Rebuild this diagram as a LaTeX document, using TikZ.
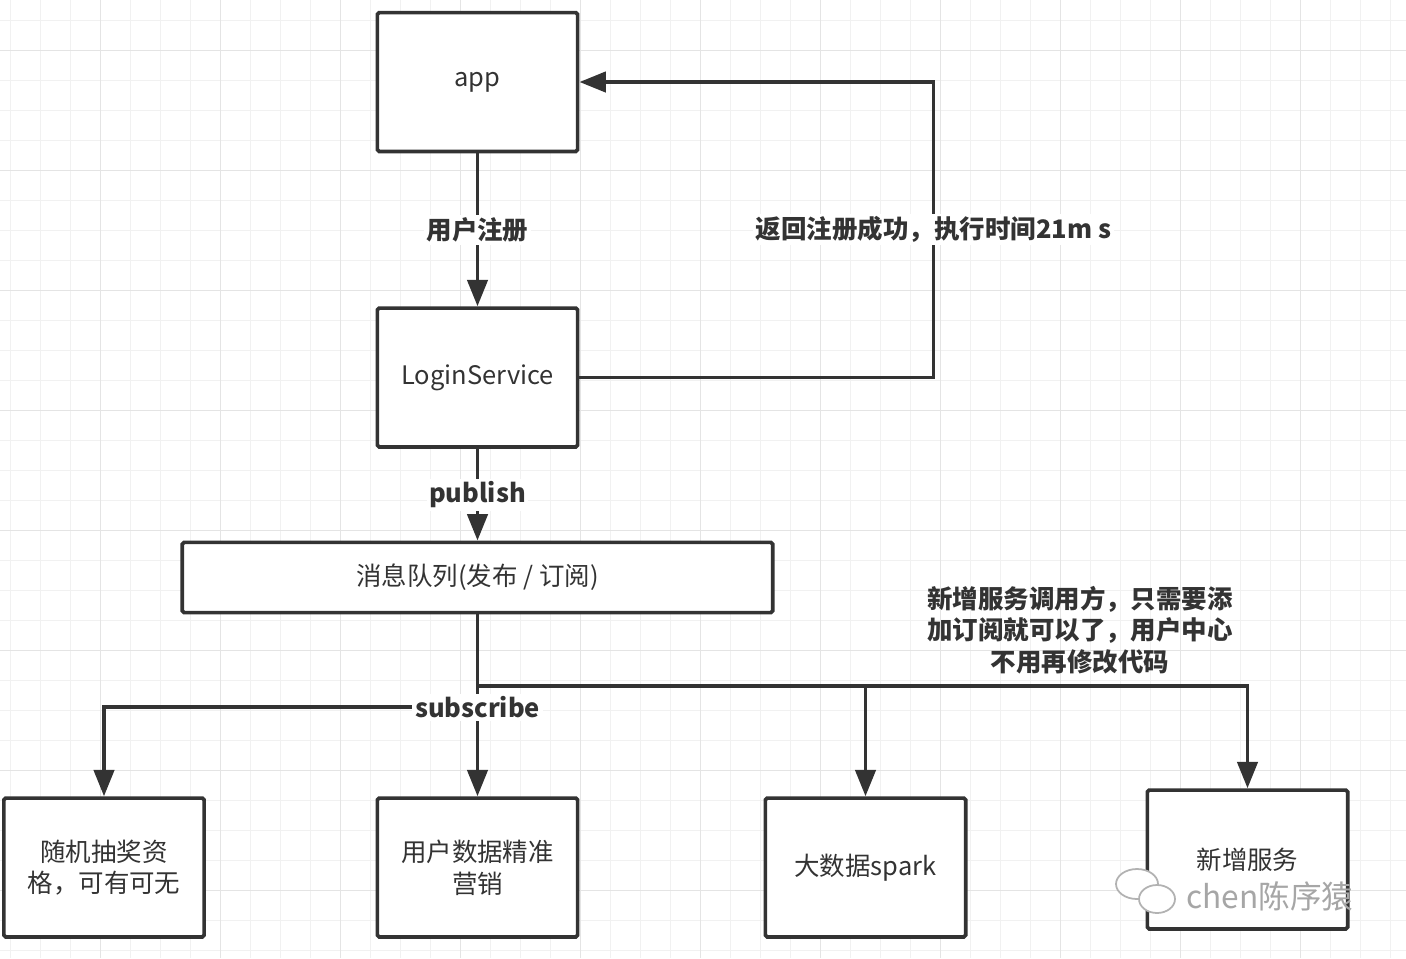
\documentclass[tikz,border=0pt]{standalone}
\usepackage{fontspec}
\setmainfont{Noto Sans CJK SC}
\usetikzlibrary{arrows.meta}

\definecolor{ink}{HTML}{333333}
\definecolor{gridminor}{HTML}{F1F1F1}
\definecolor{gridmajor}{HTML}{E4E4E4}

\tikzset{
  box/.style={draw=ink, line width=2.1pt, fill=white, rounded corners=1pt,
    minimum width=114pt, minimum height=79pt, align=center, text=ink,
    font=\fontsize{14.5pt}{18pt}\selectfont},
  flow/.style={draw=ink, line width=2.1pt, -{Triangle[length=15pt,width=11.5pt]}},
  lbl/.style={fill=white, inner sep=1.5pt, text=ink,
    font=\bfseries\fontsize{14.5pt}{18pt}\selectfont},
}

\begin{document}
\begin{tikzpicture}[x=0.02cm,y=-0.02cm]

    \useasboundingbox (0,0) rectangle (1406,958);
    \fill[white] (0,0) rectangle (1406,958);

    % grid
    \foreach \gx in {10.7,40.7,...,1406}
        \draw[gridminor, line width=0.6pt] (\gx,0) -- (\gx,958);
    \foreach \gy in {20.7,50.7,...,958}
        \draw[gridminor, line width=0.6pt] (0,\gy) -- (1406,\gy);
    \foreach \gx in {100.7,220.7,...,1406}
        \draw[gridmajor, line width=0.8pt] (\gx,0) -- (\gx,958);
    \foreach \gy in {50.7,170.7,...,958}
        \draw[gridmajor, line width=0.8pt] (0,\gy) -- (1406,\gy);

    % boxes
    \node[box] (app) at (477.5,82) {app};
    \node[box] (loginService) at (477.5,377.5) {LoginService};
    \node[box, minimum width=336pt, minimum height=40pt] (queue) at (477.5,577.5) {消息队列(发布 / 订阅)};
    \node[box] (lottery) at (104,867.5) {随机抽奖资\\格，可有可无};
    \node[box] (marketing) at (477.5,867.5) {用户数据精准\\营销};
    \node[box] (spark) at (865.5,867.5) {大数据spark};
    \node[box] (newService) at (1247.5,859.5) {新增服务};

    \coordinate (fork) at (477.5,686);
    \coordinate (split) at (477.5,707);

    % connectors
    \draw[flow] (app) -- node[lbl] {用户注册} (loginService);
    \draw[flow] (loginService.east) -- ++(354,0) |- node[lbl, pos=0.25] {返回注册成功，执行时间21m s} (app.east);
    \draw[flow] (loginService) -- node[lbl] {publish} (queue);
    \draw[flow] (split) -| (lottery);
    \draw[flow] (fork) -| (newService);
    \draw[flow] (fork -| spark) -- (spark);
    \draw[flow] (queue) -- node[lbl, pos=0.51] {subscribe} (marketing);

    % note
    \node[align=center, text=ink, font=\bfseries\fontsize{14.5pt}{18pt}\selectfont] (note) at (1080,630)
        {新增服务调用方，只需要添\\加订阅就可以了，用户中心\\不用再修改代码};

    % watermark
    \draw[gray!60, fill=white, line width=1pt] (1137,884) ellipse (21 and 15);
    \draw[gray!60, fill=white, line width=1pt] (1157,899) ellipse (18 and 14);
    \node[text=gray!70, font=\fontsize{18pt}{20pt}\selectfont] (mark) at (1270,896) {chen陈序猿};

\end{tikzpicture}
\end{document}
